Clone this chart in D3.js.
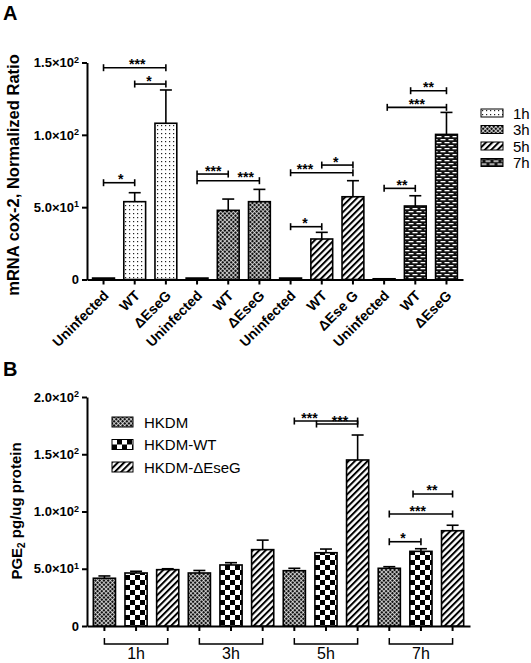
<!DOCTYPE html>
<html>
<head>
<meta charset="utf-8">
<script src="https://cdn.jsdelivr.net/npm/d3@7"></script>
<style>
  body { margin: 0; background: #fff; }
  svg { display: block; font-family: "Liberation Sans", Arial, sans-serif; }
</style>
</head>
<body>
<div id="chart"></div>
<script>
// ---------------------------------------------------------------------------
// Panel A - mRNA cox-2
// ---------------------------------------------------------------------------
const timesA = ['1h', '3h', '5h', '7h'];
const labelsA = ['Uninfected', 'WT', '\u0394EseG',
                 'Uninfected', 'WT', '\u0394EseG',
                 'Uninfected', 'WT', '\u0394Ese G',
                 'Uninfected', 'WT', '\u0394EseG'];
const meansA  = [1, 53.8, 108,  1, 47.8, 53.8,  1, 28, 57.2,  0.5, 50.8, 100.3];
const errorsA = [0, 6.2, 23,    0, 7.8, 8.5,    0, 4.6, 11.1, 0, 7.1, 15.2];
const ticksA = [0, 50, 100, 150];
// significance brackets : bar indices, height in data units, label position (0..1)
const bracketsA = [
    { from: 0, to: 1, at: 66.9, mark: '*', pos: 0.55 },
    { from: 0, to: 2, at: 146.4, mark: '***', pos: 0.54 },
    { from: 1, to: 2, at: 135.1, mark: '*', pos: 0.46 },
    { from: 3, to: 4, at: 72.9, mark: '***', pos: 0.52 },
    { from: 3, to: 5, at: 68.3, mark: '***', pos: 0.78 },
    { from: 6, to: 7, at: 36.5, mark: '*', pos: 0.46 },
    { from: 6, to: 8, at: 73.8, mark: '***', pos: 0.23 },
    { from: 7, to: 8, at: 79.1, mark: '*', pos: 0.45 },
    { from: 9, to: 10, at: 63, mark: '**', pos: 0.57 },
    { from: 9.1, to: 11, at: 119, mark: '***', pos: 0.5 },
    { from: 9.85, to: 11, at: 130.5, mark: '**', pos: 0.5 }
];

// ---------------------------------------------------------------------------
// Panel B - PGE2
// ---------------------------------------------------------------------------
const timesB = ['1h', '3h', '5h', '7h'];
const seriesB = ['HKDM', 'HKDM-WT', 'HKDM-\u0394EseG'];
const hkdm     = [41.7, 46.3, 48.3, 50.4];
const hkdmWT   = [46.3, 53.3, 64, 65.2];
const hkdmEseG = [49.2, 66.7, 145, 83.2];
const hkdmErr     = [2, 2.2, 2.1, 1.4];
const hkdmWTErr   = [1.5, 2, 3.2, 2.3];
const hkdmEseGErr = [0.8, 8.3, 21.8, 4.8];
const ticksB = [0, 50, 100, 150, 200];
const bracketsB = [
    { from: 6, to: 8, at: 179, mark: '***', pos: 0.24 },
    { from: 6.7, to: 8, at: 176.4, mark: '***', pos: 0.57 },
    { from: 9, to: 10, at: 73.6, mark: '*', pos: 0.43 },
    { from: 9, to: 11, at: 97.8, mark: '***', pos: 0.45 },
    { from: 9.75, to: 11, at: 115.3, mark: '**', pos: 0.48 }
];

const svg = d3.select('#chart').append('svg')
    .attr('width', 531)
    .attr('height', 663);

// ---- hatch patterns ----
const defs = svg.append('defs');
function pattern(id, w, h, draw, transform) {
    const p = defs.append('pattern')
        .attr('id', id)
        .attr('patternUnits', 'userSpaceOnUse')
        .attr('width', w)
        .attr('height', h);
    if (transform) p.attr('patternTransform', transform);
    draw(p);
}
pattern('dots', 4, 4, p => {
    p.append('rect').attr('width', 4).attr('height', 4).attr('fill', '#fff');
    p.append('rect').attr('x', 1).attr('y', 1).attr('width', 1.2).attr('height', 1.2).attr('fill', '#222');
});
pattern('fine', 3, 3, p => {
    p.append('rect').attr('width', 3).attr('height', 3).attr('fill', '#fff');
    p.append('rect').attr('width', 2.3).attr('height', 2.3).attr('fill', '#111');
}, 'rotate(45)');
pattern('diag', 4.5, 4.5, p => {
    p.append('rect').attr('width', 4.5).attr('height', 4.5).attr('fill', '#fff');
    p.append('rect').attr('width', 2).attr('height', 4.5).attr('fill', '#000');
}, 'rotate(45)');
pattern('brick', 8, 6, p => {
    p.append('rect').attr('width', 8).attr('height', 6).attr('fill', '#111');
    p.append('rect').attr('x', 0.5).attr('y', 1).attr('width', 5).attr('height', 1.3).attr('fill', '#fff');
    p.append('rect').attr('x', 4.5).attr('y', 4).attr('width', 5).attr('height', 1.3).attr('fill', '#fff');
    p.append('rect').attr('x', -3.5).attr('y', 4).attr('width', 5).attr('height', 1.3).attr('fill', '#fff');
});
pattern('checker', 10, 10, p => {
    p.append('rect').attr('width', 10).attr('height', 10).attr('fill', '#fff');
    p.append('rect').attr('width', 5).attr('height', 5).attr('fill', '#000');
    p.append('rect').attr('x', 5).attr('y', 5).attr('width', 5).attr('height', 5).attr('fill', '#000');
});

const fillsA = ['url(#dots)', 'url(#fine)', 'url(#diag)', 'url(#brick)'];
const fillsB = ['url(#fine)', 'url(#checker)', 'url(#diag)'];

// format 1.5x10^2 style tick labels
function sciLabel(sel) {
    sel.each(function (d) {
        const t = d3.select(this).text('');
        if (d === 0) { t.text('0'); return; }
        const e = Math.floor(Math.log10(d));
        t.append('tspan').text((d / Math.pow(10, e)).toFixed(1) + '\u00d710');
        t.append('tspan').attr('dy', '-0.5em').style('font-size', '9px').text(e);
    });
}

function styleAxis(g) {
    g.selectAll('path, line').attr('stroke', '#000').attr('stroke-width', 2);
    g.selectAll('text')
        .attr('fill', '#000')
        .style('font-size', '13px')
        .style('font-weight', 'bold');
}

function drawBars(g, x, y, means, errors, fills) {
    const center = i => x(0) + x.bandwidth() / 2 + i * x.step();
    g.selectAll('.bar')
        .data(means)
        .enter()
        .append('rect')
        .attr('x', (d, i) => x(i))
        .attr('y', d => y(d))
        .attr('width', x.bandwidth())
        .attr('height', d => y(0) - y(d))
        .attr('fill', (d, i) => fills[i])
        .attr('stroke', '#000')
        .attr('stroke-width', 1.6);

    means.forEach((m, i) => {
        if (!errors[i]) return;
        const cx = center(i);
        g.append('line')
            .attr('x1', cx).attr('x2', cx)
            .attr('y1', y(m)).attr('y2', y(m + errors[i]))
            .attr('stroke', '#000').attr('stroke-width', 1.6);
        g.append('line')
            .attr('x1', cx - 6).attr('x2', cx + 6)
            .attr('y1', y(m + errors[i])).attr('y2', y(m + errors[i]))
            .attr('stroke', '#000').attr('stroke-width', 1.6);
    });
    return center;
}

function drawBrackets(g, center, y, brackets) {
    brackets.forEach(b => {
        const x1 = center(b.from), x2 = center(b.to), yy = y(b.at);
        g.append('line')
            .attr('x1', x1).attr('x2', x2).attr('y1', yy).attr('y2', yy)
            .attr('stroke', '#000').attr('stroke-width', 1.6);
        [x1, x2].forEach(xx => {
            g.append('line')
                .attr('x1', xx).attr('x2', xx).attr('y1', yy - 3.5).attr('y2', yy + 3.5)
                .attr('stroke', '#000').attr('stroke-width', 1.6);
        });
        g.append('text')
            .attr('x', x1 + (x2 - x1) * b.pos)
            .attr('y', yy + 1.5)
            .attr('text-anchor', 'middle')
            .style('font-size', '14px')
            .style('font-weight', 'bold')
            .text(b.mark);
    });
}

// ============================== PANEL A ====================================
const xA = d3.scaleBand()
    .domain(d3.range(labelsA.length))
    .range([87, 463])
    .paddingInner(0.3)
    .paddingOuter(0.18);
const yA = d3.scaleLinear().domain([0, 150]).range([279.5, 62.5]);

const gA = svg.append('g');

gA.append('g')
    .attr('transform', 'translate(87,0)')
    .call(d3.axisLeft(yA).tickValues(ticksA).tickSize(5).tickSizeOuter(0))
    .call(styleAxis)
    .selectAll('text').call(sciLabel);

gA.append('g')
    .attr('transform', `translate(0,${yA(0)})`)
    .call(d3.axisBottom(xA).tickSize(5).tickSizeOuter(0).tickFormat(''))
    .call(styleAxis);

const centerA = drawBars(gA, xA, yA, meansA, errorsA,
    meansA.map((d, i) => fillsA[Math.floor(i / 3)]));
drawBrackets(gA, centerA, yA, bracketsA);

gA.selectAll('.xlabA')
    .data(labelsA)
    .enter()
    .append('text')
    .attr('transform', (d, i) => `translate(${centerA(i) + 6},${yA(0) + 17}) rotate(-45)`)
    .attr('text-anchor', 'end')
    .style('font-size', '14px')
    .style('font-weight', 'bold')
    .text(d => d);

gA.append('text')
    .attr('transform', 'rotate(-90)')
    .attr('x', -175)
    .attr('y', 19)
    .attr('text-anchor', 'middle')
    .style('font-size', '16.5px')
    .style('font-weight', 'bold')
    .text('mRNA cox-2, Normalized Ratio');

// legend A
const legA = gA.append('g').attr('transform', 'translate(481,113)');
timesA.forEach((t, i) => {
    const row = legA.append('g').attr('transform', `translate(0,${i * 16.5})`);
    row.append('rect')
        .attr('y', -4).attr('width', 22).attr('height', 8)
        .attr('fill', fillsA[i]).attr('stroke', '#000').attr('stroke-width', 1);
    row.append('text')
        .attr('x', 32).attr('y', 5.5)
        .style('font-size', '15px')
        .text(t);
});

svg.append('text')
    .attr('x', 3).attr('y', 20)
    .style('font-size', '20px').style('font-weight', 'bold')
    .text('A');

// ============================== PANEL B ====================================
const meansB = [], errorsB = [], fillB = [];
timesB.forEach((t, k) => {
    [hkdm, hkdmWT, hkdmEseG].forEach((s, j) => { meansB.push(s[k]); fillB.push(fillsB[j]); });
    [hkdmErr, hkdmWTErr, hkdmEseGErr].forEach(s => errorsB.push(s[k]));
});

const xB = d3.scaleBand()
    .domain(d3.range(meansB.length))
    .range([87, 470])
    .paddingInner(0.3)
    .paddingOuter(0.2);
const yB = d3.scaleLinear().domain([0, 200]).range([626, 397]);

const gB = svg.append('g');

gB.append('g')
    .attr('transform', 'translate(87,0)')
    .call(d3.axisLeft(yB).tickValues(ticksB).tickSize(5).tickSizeOuter(0))
    .call(styleAxis)
    .selectAll('text').call(sciLabel);

gB.append('g')
    .attr('transform', `translate(0,${yB(0)})`)
    .call(d3.axisBottom(xB).tickSize(5).tickSizeOuter(0).tickFormat(''))
    .call(styleAxis);

const centerB = drawBars(gB, xB, yB, meansB, errorsB, fillB);
drawBrackets(gB, centerB, yB, bracketsB);

// time group brackets under the axis
timesB.forEach((t, k) => {
    const x1 = centerB(k * 3), x2 = centerB(k * 3 + 2);
    const yy = yB(0) + 18;
    gB.append('path')
        .attr('d', `M${x1},${yy - 6}V${yy}H${x2}V${yy - 6}`)
        .attr('fill', 'none').attr('stroke', '#000').attr('stroke-width', 1.5);
    gB.append('text')
        .attr('x', (x1 + x2) / 2).attr('y', yy + 15)
        .attr('text-anchor', 'middle')
        .style('font-size', '16px')
        .text(t);
});

gB.append('text')
    .attr('transform', 'rotate(-90)')
    .attr('x', -511)
    .attr('y', 22)
    .attr('text-anchor', 'middle')
    .style('font-size', '15px')
    .style('font-weight', 'bold')
    .call(t => {
        t.append('tspan').text('PGE');
        t.append('tspan').attr('dy', '0.3em').style('font-size', '10px').text('2');
        t.append('tspan').attr('dy', '-0.3em').text(' pg/ug protein');
    });

// legend B
const legB = gB.append('g').attr('transform', 'translate(112,422)');
seriesB.forEach((s, i) => {
    const row = legB.append('g').attr('transform', `translate(0,${i * 22.5})`);
    row.append('rect')
        .attr('y', -5).attr('width', 21).attr('height', 10)
        .attr('fill', fillsB[i]).attr('stroke', '#000').attr('stroke-width', 1);
    row.append('text')
        .attr('x', 32).attr('y', 5.5)
        .style('font-size', '15px')
        .text(s);
});

svg.append('text')
    .attr('x', 3).attr('y', 376)
    .style('font-size', '20px').style('font-weight', 'bold')
    .text('B');
</script>
</body>
</html>
